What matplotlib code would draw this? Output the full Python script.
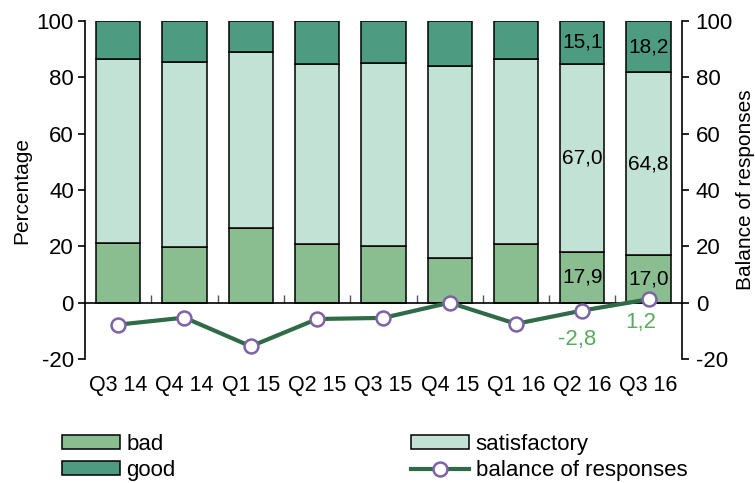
import matplotlib.pyplot as plt
import numpy as np

plt.rcParams['font.family'] = ['Liberation Sans', 'DejaVu Sans']
plt.rcParams['axes.unicode_minus'] = False

# Data
quarters = ["Q3 14", "Q4 14", "Q1 15", "Q2 15", "Q3 15", "Q4 15", "Q1 16", "Q2 16", "Q3 16"]
bad = [21.3, 19.8, 26.6, 21.0, 20.2, 15.8, 21.0, 17.9, 17.0]
satisfactory = [65.2, 65.7, 62.3, 63.8, 65.0, 68.4, 65.5, 67.0, 64.8]
good = [13.5, 14.5, 11.1, 15.2, 14.8, 15.8, 13.5, 15.1, 18.2]
balance = [-7.8, -5.3, -15.5, -5.8, -5.4, 0.0, -7.5, -2.8, 1.2]

c_bad = '#8abd8f'
c_sat = '#c1e2d5'
c_good = '#4d9b80'
c_line = '#2e6b46'
c_marker = '#7e62a8'
c_label = '#5aaa5f'

fig = plt.figure(figsize=(7.55, 4.83), dpi=100)
ax = fig.add_axes([0.1126, 0.2567, 0.7904, 0.6998])
x = np.arange(len(quarters))
bot_sat = np.array(bad)
bot_good = bot_sat + np.array(satisfactory)

b1 = ax.bar(x, bad, width=0.667, color=c_bad, edgecolor='black', linewidth=1.1, label='bad', zorder=2)
b2 = ax.bar(x, satisfactory, width=0.667, bottom=bot_sat, color=c_sat, edgecolor='black', linewidth=1.1,
            label='satisfactory', zorder=2)
b3 = ax.bar(x, good, width=0.667, bottom=bot_good, color=c_good, edgecolor='black', linewidth=1.1,
            label='good', zorder=2)

ax.set_xlim(-0.5, 8.5)
ax.set_ylim(-20, 100)
ax.set_yticks(range(-20, 101, 20))
ax.set_ylabel('Percentage', fontsize=15, labelpad=4)
ax.tick_params(axis='y', labelsize=16, direction='out', length=5, width=1.2, pad=3)

# x axis sits at zero, labels pushed below the plot
ax.spines['top'].set_visible(False)
ax.spines['right'].set_visible(False)
ax.spines['bottom'].set_position(('data', 0))
ax.spines['bottom'].set_linewidth(1.2)
ax.spines['left'].set_linewidth(1.2)
ax.set_xticks(x)
ax.set_xticklabels(quarters, fontsize=15.5)
ax.tick_params(axis='x', which='major', length=0, pad=52)
ax.set_xticks(x[:-1] + 0.5, minor=True)
ax.tick_params(axis='x', which='minor', direction='in', length=6, width=1.0, color='#555555')

# value labels for the last two quarters
for i in [7, 8]:
    ax.text(x[i], bad[i] / 2, f"{bad[i]:.1f}".replace('.', ','), ha='center', va='center', fontsize=15, zorder=3)
    ax.text(x[i], bot_sat[i] + satisfactory[i] / 2, f"{satisfactory[i]:.1f}".replace('.', ','),
            ha='center', va='center', fontsize=15, zorder=3)
    ax.text(x[i], bot_good[i] + good[i] / 2, f"{good[i]:.1f}".replace('.', ','), ha='center', va='center',
            fontsize=15, zorder=3)

# right axis with balance of responses
ax2 = ax.twinx()
ax2.set_ylim(-20, 100)
ax2.set_yticks(range(-20, 101, 20))
ax2.tick_params(axis='y', labelsize=16, direction='out', length=5, width=1.2, pad=5)
ax2.set_ylabel('Balance of responses', fontsize=15, labelpad=2)
for s in ['top', 'bottom', 'left']:
    ax2.spines[s].set_visible(False)
ax2.spines['right'].set_linewidth(1.2)
ln, = ax2.plot(x, balance, color=c_line, linewidth=3, marker='o', markersize=10,
               markerfacecolor='white', markeredgecolor=c_marker, markeredgewidth=1.8,
               label='balance of responses', zorder=4)
ax2.annotate("-2,8", (x[7], balance[7]), xytext=(-4, -21), textcoords='offset points',
             ha='center', va='center', fontsize=16, color=c_label)
ax2.annotate("1,2", (x[8], balance[8]), xytext=(-6, -17), textcoords='offset points',
             ha='center', va='center', fontsize=16, color=c_label)

fig.legend([b1, b3, b2, ln], ['bad', 'good', 'satisfactory', 'balance of responses'],
           ncol=2, loc='upper left', bbox_to_anchor=(62 / 755, 1 - 434 / 483),
           frameon=False, fontsize=16, borderpad=0, borderaxespad=0,
           handlelength=2.6, handleheight=0.55, handletextpad=0.3,
           columnspacing=10.6, labelspacing=0.22)

fig.savefig('out.png', dpi=100)
